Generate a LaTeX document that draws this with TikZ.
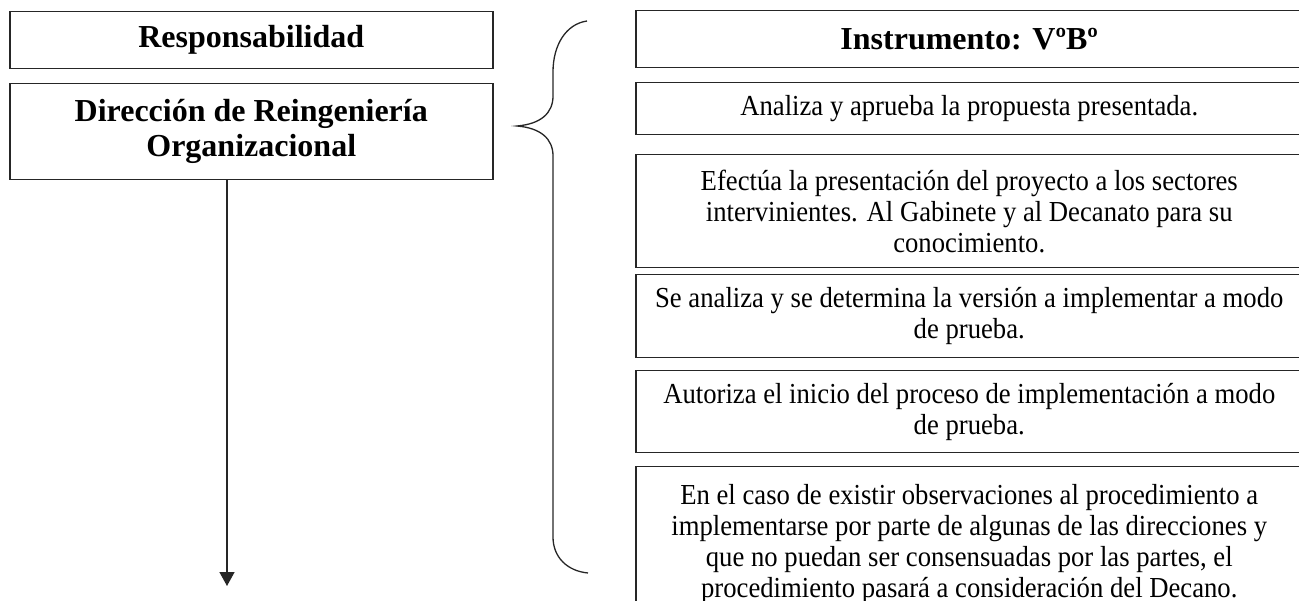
\documentclass[tikz,border=0pt]{standalone}
\usepackage{fontspec}
\setmainfont{Liberation Serif}
\newfontfamily\narrowserif{Liberation Serif}[FakeStretch=0.92]
\usetikzlibrary{arrows.meta}
\tikzset{
  lbox/.style={draw=black!85, line width=1.5pt, minimum width=483pt, anchor=north west, align=center, inner sep=0pt,
    font=\bfseries\fontsize{32}{35}\selectfont},
  rbox/.style={draw=black!85, line width=1.5pt, minimum width=667pt, anchor=north west, align=center, inner sep=0pt,
    font=\narrowserif\fontsize{29}{31}\selectfont},
  conn/.style={draw=black!85, line width=1.5pt},
}
\begin{document}
\begin{tikzpicture}[x=1pt,y=-1pt]
\useasboundingbox (0,0) rectangle (1299,601);
\clip (0,0) rectangle (1299,601);
% left column
\node[lbox, minimum height=57pt] (resp) at (9,11) {Responsabilidad};
\node[lbox, minimum height=96pt] (dir) at (9,83) {Dirección de Reingeniería\\Organizacional};
\coordinate (end) at (227,586);
\draw[conn, -{Triangle[length=14pt,width=15pt]}] (dir.south -| end) -- (end);
% brace
\coordinate (btop) at (587,21);
\coordinate (btip) at (517,126);
\coordinate (bbot) at (588,573);
\draw[conn, line width=1.3pt] (btop) .. controls (566,24) and (553,45) .. (553,72) -- (553,96)
  .. controls (553,113) and (541,124) .. (btip)
  .. controls (541,128) and (553,139) .. (553,156) -- (553,537)
  .. controls (553,557) and (567,571) .. (bbot);
% right column
\node[rbox, minimum height=57pt, font=\bfseries\fontsize{32}{35}\selectfont] (inst) at (635,10) {Instrumento: VºBº};
\node[rbox, minimum height=52pt] (r1) at (635,82) {Analiza y aprueba la propuesta presentada.};
\node[rbox, minimum height=113pt] (r2) at (635,154) {Efectúa la presentación del proyecto a los sectores\\intervinientes. Al Gabinete y al Decanato para su\\conocimiento.};
\node[rbox, minimum height=83pt] (r3) at (635,274) {Se analiza y se determina la versión a implementar a modo\\de prueba.};
\node[rbox, minimum height=82pt] (r4) at (635,370) {Autoriza el inicio del proceso de implementación a modo\\de prueba.};
\node[rbox, minimum height=154pt] (r5) at (635,466) {En el caso de existir observaciones al procedimiento a\\implementarse por parte de algunas de las direcciones y\\que no puedan ser consensuadas por las partes, el\\procedimiento pasará a consideración del Decano.};
\end{tikzpicture}
\end{document}
